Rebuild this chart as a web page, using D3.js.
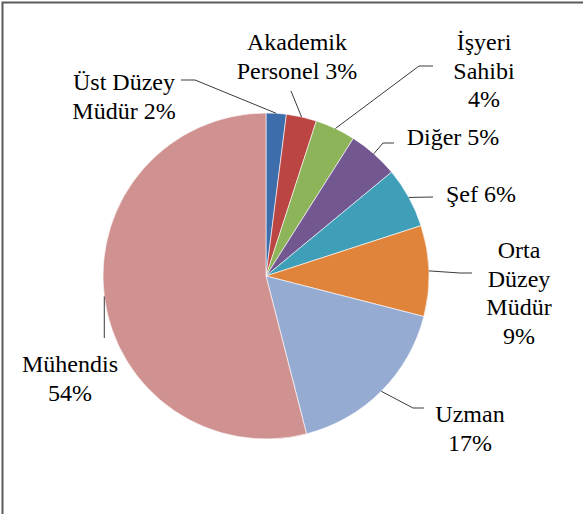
<!DOCTYPE html>
<html>
<head>
<meta charset="utf-8">
<script src="https://cdn.jsdelivr.net/npm/d3@7"></script>
</head>
<body style="margin:0">
<div id="chart"></div>
<script>
// data
var categories = ["Üst Düzey Müdür", "Akademik Personel", "İşyeri Sahibi", "Diğer",
                  "Şef", "Orta Düzey Müdür", "Uzman", "Mühendis"]
var values = [2, 3, 4, 5, 6, 9, 17, 54]
var labelLines = [["Üst Düzey", "Müdür 2%"],
                  ["Akademik", "Personel 3%"],
                  ["İşyeri", "Sahibi", "4%"],
                  ["Diğer 5%"],
                  ["Şef 6%"],
                  ["Orta", "Düzey", "Müdür", "9%"],
                  ["Uzman", "17%"],
                  ["Mühendis", "54%"]]
var colors = ["#3D6DAA", "#BA4542", "#8EB45A", "#735791",
              "#3F9EB8", "#E0843C", "#96ABD2", "#D09291"]

// layout
var w = 583, h = 514,
	cx = 266, cy = 276,
	radius = 163,
	fontSize = 24,
	lineGap = 28.5

// label anchor (center x, first baseline) and leader points after the arc edge
var labelLayout = [
	{x: 124, y: 90,  leader: [[195, 80], [181, 80]]},
	{x: 297, y: 50,  leader: [[291, 91]]},
	{x: 484, y: 50,  leader: [[419, 66], [433, 66]]},
	{x: 453, y: 145, leader: [[383, 143], [394, 143]]},
	{x: 481, y: 202, leader: [[433, 197]]},
	{x: 519, y: 258, leader: [[460, 273], [472, 273]]},
	{x: 470, y: 422, leader: [[413, 408], [424, 408]]},
	{x: 70,  y: 372, leader: [[null, 338]]}
]

var svg = d3.select("#chart")
			.append("svg")
			.attr("width", w)
			.attr("height", h)

// frame (only top and left edges show in the picture)
svg.append("rect")
	.attr("x", 2.5)
	.attr("y", 2.5)
	.attr("width", w + 10)
	.attr("height", h + 10)
	.attr("fill", "none")
	.attr("stroke", "#5a5a5a")
	.attr("stroke-width", 2)

var pie = d3.pie().sort(null).value(function(d){ return d })
var arcs = pie(values)

var arc = d3.arc().innerRadius(0).outerRadius(radius)
var edge = d3.arc().innerRadius(radius).outerRadius(radius)

var g = svg.append("g").attr("transform", "translate(" + cx + "," + cy + ")")

g.selectAll("path")
	.data(arcs)
	.enter()
	.append("path")
	.attr("d", arc)
	.attr("fill", function(d,i){ return colors[i] })
	.attr("stroke", "#ffffff")
	.attr("stroke-width", 0.6)

// leader lines
var line = d3.line()
svg.append("g").selectAll("path")
	.data(arcs)
	.enter()
	.append("path")
	.attr("d", function(d,i){
		var p = edge.centroid(d)
		var start = [cx + p[0], cy + p[1]]
		var pts = [start].concat(labelLayout[i].leader.map(function(q){
			return [q[0] === null ? start[0] : q[0], q[1]]
		}))
		return line(pts)
	})
	.attr("fill", "none")
	.attr("stroke", "#3a3a3a")
	.attr("stroke-width", 1)

// labels, one text element per line, centred by measuring (no text-anchor)
var rows = []
labelLines.forEach(function(lines, i){
	lines.forEach(function(s, k){
		rows.push({text: s, x: labelLayout[i].x, y: labelLayout[i].y + k * lineGap})
	})
})

svg.selectAll("text")
	.data(rows)
	.enter()
	.append("text")
	.attr("font-size", fontSize)
	.style("font-family", "'Liberation Serif'")
	.text(function(d){ return d.text })
	.attr("y", function(d){ return d.y })
	.attr("x", function(d){ return d.x - this.getComputedTextLength() / 2 })
</script>
</body>
</html>
